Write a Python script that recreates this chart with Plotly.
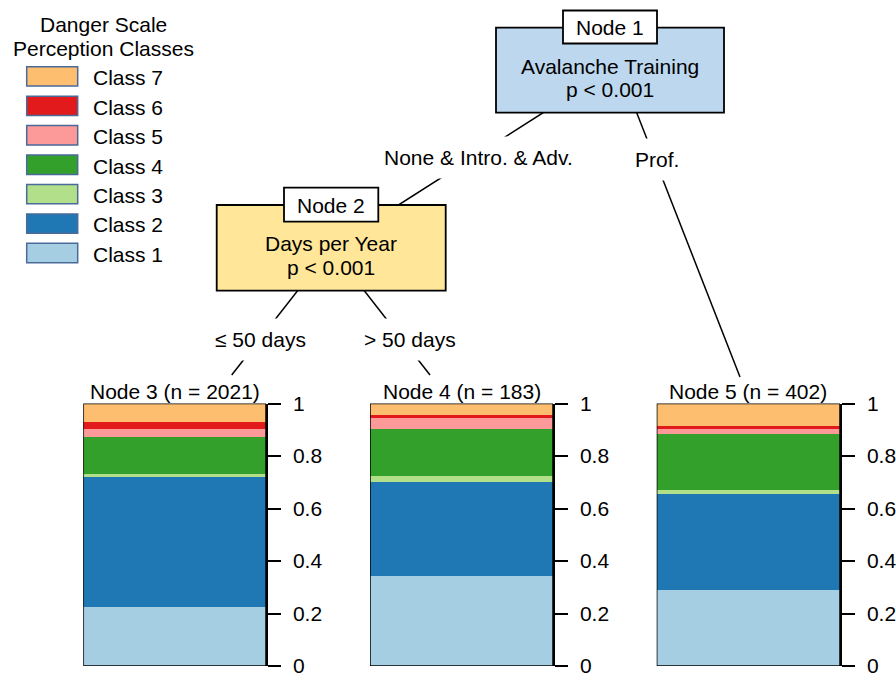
import plotly.graph_objects as go

# ---------------- data ----------------
classes = ["Class 1", "Class 2", "Class 3", "Class 4", "Class 5", "Class 6", "Class 7"]
colors = ["#a6cee3", "#1f78b4", "#b2df8a", "#33a02c", "#fb9a99", "#e31a1c", "#fdbf6f"]
nodes = ["Node 3 (n = 2021)", "Node 4 (n = 183)", "Node 5 (n = 402)"]
node3 = [0.228, 0.493, 0.012, 0.140, 0.032, 0.025, 0.070]
node4 = [0.343, 0.359, 0.025, 0.178, 0.042, 0.010, 0.043]
node5 = [0.293, 0.364, 0.016, 0.213, 0.019, 0.013, 0.082]
node_values = [node3, node4, node5]
tick_vals = [0, 0.2, 0.4, 0.6, 0.8, 1]
tick_text = ["0", "0.2", "0.4", "0.6", "0.8", "1"]
split1_var = "Avalanche Training"
split1_left, split1_right = "None & Intro. & Adv.", "Prof."
split2_var = "Days per Year"
split2_left, split2_right = "≤ 50 days", "> 50 days"
p_text = "p < 0.001"
legend_title = ["Danger Scale", "Perception Classes"]

W, H = 896, 673
FONT = "Liberation Sans, Arial, sans-serif"
FS = 21


def px(x):
    return x / W


def py(y):
    return 1 - y / H


fig = go.Figure()

# terminal-node panels (in pixels)
bar_x = [(83.3, 266.0), (370.0, 553.0), (656.7, 840.0)]
bar_top, bar_bot = 403.5, 666.0

for i, vals in enumerate(node_values):
    xa = "x" if i == 0 else f"x{i+1}"
    ya = "y" if i == 0 else f"y{i+1}"
    for c, v, col in zip(classes, vals, colors):
        fig.add_trace(go.Bar(x=[0], y=[v], name=c, marker=dict(color=col, line=dict(width=0)),
                             width=1, xaxis=xa, yaxis=ya, showlegend=False,
                             hovertemplate=c + ": %{y:.3f}<extra>" + nodes[i] + "</extra>"))
    suffix = "" if i == 0 else str(i + 1)
    fig.layout["xaxis" + suffix] = dict(domain=[px(bar_x[i][0]), px(bar_x[i][1])], range=[-0.5, 0.5],
                                        visible=False, anchor=ya, fixedrange=True, automargin=False)
    fig.layout["yaxis" + suffix] = dict(domain=[py(bar_bot), py(bar_top)], range=[0, 1], anchor=xa,
                                        side="right", showline=True, linecolor="black", linewidth=1.5,
                                        ticks="outside", ticklen=13, tickwidth=1.5, tickcolor="black",
                                        tickvals=tick_vals, ticktext=tick_text, showgrid=False,
                                        zeroline=False, ticklabelstandoff=8, automargin=False,
                                        ticklabeloverflow="allow",
                                        tickfont=dict(family=FONT, size=FS, color="black"), fixedrange=True)
    fig.add_shape(type="rect", xref=xa, yref=ya, x0=-0.5, x1=0.5, y0=0, y1=1,
                  line=dict(color="black", width=1.5), fillcolor="rgba(0,0,0,0)")
    fig.add_annotation(text=nodes[i], xref="paper", yref="paper",
                       x=px((bar_x[i][0] + bar_x[i][1]) / 2), y=py(391), showarrow=False,
                       xanchor="center", yanchor="middle", font=dict(family=FONT, size=FS, color="black"))

# tree edges (pixels)
edges = [((610, 70), (331, 248)), ((620, 70), (740, 377)),
         ((331, 248), (231.7, 375)), ((331, 248), (430, 375))]
for (x0, y0), (x1, y1) in edges:
    fig.add_shape(type="line", xref="paper", yref="paper", x0=px(x0), y0=py(y0), x1=px(x1), y1=py(y1),
                  line=dict(color="black", width=1.5))


def node_box(x0, y0, x1, y1, fill, lx0, ly0, lx1, ly1, label, title, cy_label, cy_t1, cy_t2):
    fig.add_shape(type="rect", xref="paper", yref="paper", x0=px(x0), y0=py(y1), x1=px(x1), y1=py(y0),
                  line=dict(color="black", width=1.8), fillcolor=fill)
    fig.add_shape(type="rect", xref="paper", yref="paper", x0=px(lx0), y0=py(ly1), x1=px(lx1), y1=py(ly0),
                  line=dict(color="black", width=1.8), fillcolor="white")
    cx = (x0 + x1) / 2
    for t, cy in [(label, cy_label), (title, cy_t1), (p_text, cy_t2)]:
        fig.add_annotation(text=t, xref="paper", yref="paper", x=px(cx), y=py(cy), showarrow=False,
                           xanchor="center", yanchor="middle", font=dict(family=FONT, size=FS, color="black"))


node_box(496, 27.7, 724, 112.7, "#bdd7ee", 563, 10.5, 657, 43.5, "Node 1", split1_var, 27.5, 67, 90)
node_box(216.7, 205, 445.7, 290.7, "#ffe699", 284, 187.7, 378.3, 221.7, "Node 2", split2_var, 205, 243, 268)

# edge labels with white background
for t, (x, y) in [(split1_left, (478.3, 157)), (split1_right, (657.3, 159)),
                  (split2_left, (260, 339)), (split2_right, (410, 339))]:
    fig.add_annotation(text=t, xref="paper", yref="paper", x=px(x), y=py(y), showarrow=False,
                       xanchor="center", yanchor="middle", bgcolor="white", borderpad=9,
                       font=dict(family=FONT, size=FS, color="black"))

# legend (drawn)
for j, t in enumerate(legend_title):
    fig.add_annotation(text=t, xref="paper", yref="paper", x=px(103), y=py(25 + 23.5 * j), showarrow=False,
                       xanchor="center", yanchor="middle", font=dict(family=FONT, size=FS, color="black"))
for k, idx in enumerate(range(len(classes) - 1, -1, -1)):
    top = 66.7 + k * 29.44
    fig.add_shape(type="rect", xref="paper", yref="paper", x0=px(26.7), x1=px(77.7),
                  y0=py(top + 19.4), y1=py(top), line=dict(color="#4a6a9a", width=1.5),
                  fillcolor=colors[idx])
    fig.add_annotation(text=classes[idx], xref="paper", yref="paper", x=px(91), y=py(top + 11),
                       showarrow=False, xanchor="left", yanchor="middle",
                       font=dict(family=FONT, size=FS, color="black"))

fig.update_layout(width=W, height=H, margin=dict(l=0, r=0, t=0, b=0, autoexpand=False), barmode="stack",
                  bargap=0, plot_bgcolor="white", paper_bgcolor="white", showlegend=False,
                  font=dict(family=FONT, size=FS, color="black"))

fig.write_html("out.html", config={"displayModeBar": False},
               post_script="document.body.style.margin='0';")
